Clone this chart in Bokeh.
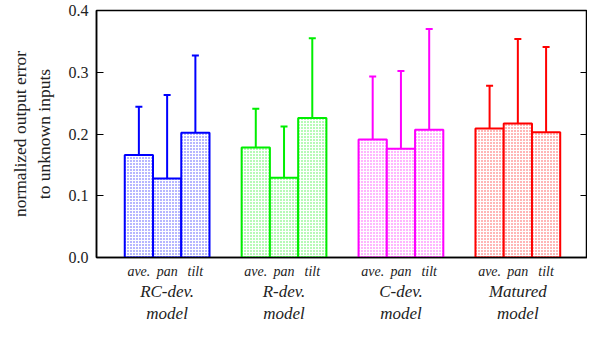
from bokeh.plotting import figure
from bokeh.models import ColumnDataSource, Whisker, LinearAxis, FixedTicker, Range1d, TeeHead, NumeralTickFormatter
from bokeh.embed import file_html
from bokeh.resources import INLINE

models = ["RC-dev.\nmodel", "R-dev.\nmodel", "C-dev.\nmodel", "Matured\nmodel"]
inputs = ["ave.", "pan", "tilt"]
colors = ["#0000ff", "#00ee00", "#ff00ff", "#ff0000"]
means = [[0.166, 0.128, 0.202],
         [0.178, 0.129, 0.226],
         [0.191, 0.176, 0.207],
         [0.209, 0.217, 0.203]]
upper = [[0.244, 0.263, 0.327],
         [0.241, 0.212, 0.355],
         [0.293, 0.302, 0.370],
         [0.278, 0.354, 0.341]]
lower = [[0.087, 0.0, 0.079],
         [0.114, 0.045, 0.098],
         [0.091, 0.049, 0.043],
         [0.141, 0.076, 0.064]]
y_ticks = [0.0, 0.1, 0.2, 0.3, 0.4]

# layout constants
GROUP_STEP = 1.2
BAR_W = 0.29
FIRST = 0.725

serif = "Liberation Serif"
TXT = "#222222"

p = figure(width=587, height=326, output_backend="svg", toolbar_location=None,
           x_range=Range1d(0, 5.04), y_range=Range1d(0, 0.4),
           min_border=0, min_border_left=96, min_border_right=0, min_border_top=10,
           min_border_bottom=0)
p.grid.visible = False
p.outline_line_color = "black"
p.outline_line_width = 1.5
p.background_fill_color = "white"
p.border_fill_color = "white"

bar_centers = []
bar_labels = {}
group_centers = []
group_labels = {}
for gi, (m, c) in enumerate(zip(models, colors)):
    gc = FIRST + gi * GROUP_STEP
    group_centers.append(gc)
    group_labels[gc] = m
    xs = [gc + (j - 1) * BAR_W for j in range(len(inputs))]
    for x, lab in zip(xs, inputs):
        bar_centers.append(x)
        bar_labels[x] = lab
    src = ColumnDataSource(dict(x=xs, top=means[gi], up=upper[gi], lo=lower[gi]))
    p.vbar(x="x", top="top", bottom=0, width=BAR_W, source=src,
           fill_color="white", line_color=c, line_width=2,
           hatch_pattern="dot", hatch_color=c, hatch_scale=3, hatch_weight=1, hatch_alpha=0.7)
    w = Whisker(base="x", upper="up", lower="lo", source=src,
                line_color=c, line_width=2,
                upper_head=TeeHead(size=7, line_color=c, line_width=2),
                lower_head=TeeHead(size=7, line_color=c, line_width=2))
    p.add_layout(w)

# y axes
yax = p.yaxis[0]
yax.ticker = FixedTicker(ticks=y_ticks)
yax.formatter = NumeralTickFormatter(format="0.0")
yax.major_tick_in = 7
yax.major_tick_out = 0
yax.minor_tick_line_color = None
yax.axis_line_width = 1.5
yax.major_label_text_font = serif
yax.major_label_text_font_size = "16px"
yax.major_label_text_color = TXT
yax.major_label_standoff = 8
yax.axis_label = "normalized output error\nto unknown inputs"
yax.axis_label_text_font = serif
yax.axis_label_text_font_style = "normal"
yax.axis_label_text_font_size = "17.5px"
yax.axis_label_text_color = TXT
yax.axis_label_standoff = 12

rax = LinearAxis(ticker=FixedTicker(ticks=y_ticks), major_tick_in=7, major_tick_out=0,
                 minor_tick_line_color=None, major_label_overrides={t: "" for t in y_ticks},
                 major_label_standoff=0, axis_label_standoff=0, axis_line_width=1.5)
p.add_layout(rax, "right")

# x axes
xax = p.xaxis[0]
xax.ticker = FixedTicker(ticks=bar_centers)
xax.major_label_overrides = bar_labels
xax.major_tick_line_color = None
xax.minor_tick_line_color = None
xax.axis_line_width = 1.5
xax.major_label_text_font = serif
xax.major_label_text_font_style = "italic"
xax.major_label_text_font_size = "14px"
xax.major_label_text_line_height = 1.0
xax.major_label_text_color = TXT
xax.major_label_standoff = 0
xax.axis_label_standoff = 0

gax = LinearAxis(ticker=FixedTicker(ticks=group_centers), major_label_overrides=group_labels,
                 major_tick_line_color=None, minor_tick_line_color=None, axis_line_color=None,
                 major_label_text_font=serif, major_label_text_font_style="italic",
                 major_label_text_font_size="17px", major_label_text_color=TXT,
                 major_label_text_line_height=1.2,
                 major_label_standoff=-6, axis_label_standoff=0)
p.add_layout(gax, "below")

open("out.html", "w").write(file_html(p, INLINE))
